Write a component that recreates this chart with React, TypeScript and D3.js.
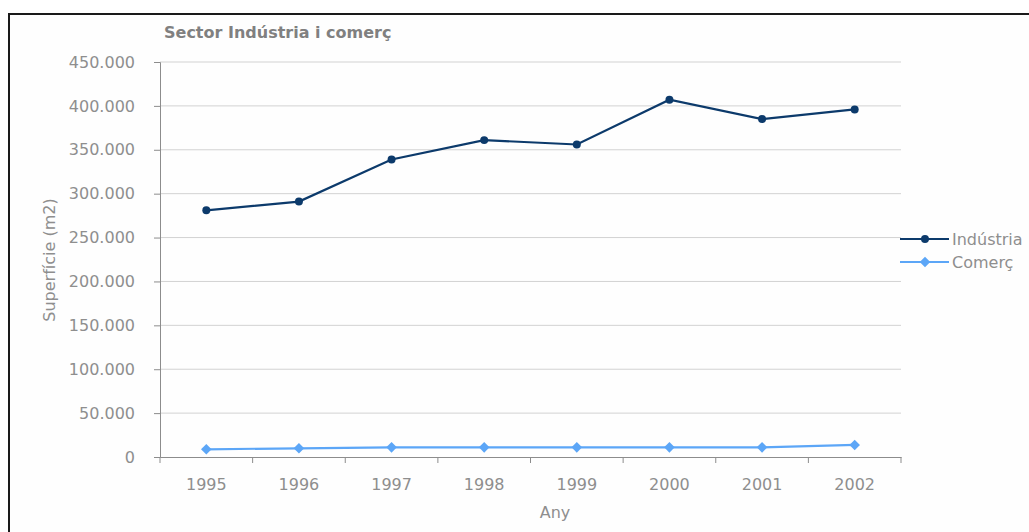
import { useEffect, useRef } from "react";
import * as d3 from "d3";

const years = ["1995", "1996", "1997", "1998", "1999", "2000", "2001", "2002"];
const industria = [281000, 291000, 339000, 361000, 356000, 407000, 385000, 396000];
const comerc = [8800, 9900, 11000, 11000, 11000, 11000, 11000, 13700];
const yTicks = [0, 50000, 100000, 150000, 200000, 250000, 300000, 350000, 400000, 450000];

const TEXT = "#8e8e8e";
const FONT = "'DejaVu Sans', Verdana, sans-serif";

export default function App() {
  const ref = useRef<SVGSVGElement>(null);

  useEffect(() => {
    if (!ref.current) return;
    const svg = d3.select(ref.current);
    svg.selectAll("*").remove();

    const x = d3.scaleBand<string>().domain(years).range([160, 901]);
    const y = d3.scaleLinear().domain([0, 450000]).range([457, 62]);
    const fmt = (v: number) => d3.format(",")(v).replace(/,/g, ".");

    // frame
    svg.append("rect").attr("width", 1029).attr("height", 532).attr("fill", "#fff");
    svg.append("rect")
      .attr("x", 9).attr("y", 14).attr("width", 1100).attr("height", 600)
      .attr("fill", "#fefefe").attr("stroke", "#1a1a1a").attr("stroke-width", 2);

    // title
    svg.append("text")
      .attr("x", 164).attr("y", 38)
      .style("font-family", FONT).style("font-size", "16px").style("font-weight", "bold")
      .attr("fill", "#808080")
      .text("Sector Indústria i comerç");

    // gridlines
    svg.append("g").selectAll("line")
      .data(yTicks.filter((t) => t > 0))
      .enter().append("line")
      .attr("x1", 160).attr("x2", 901)
      .attr("y1", (d) => y(d)).attr("y2", (d) => y(d))
      .attr("stroke", "#d2d2d2").attr("stroke-width", 1);

    // y axis
    const yAxis = svg.append("g")
      .attr("transform", "translate(160,0)")
      .call(d3.axisLeft(y).tickValues(yTicks).tickFormat((d) => fmt(d as number)).tickSize(6).tickPadding(19));
    yAxis.select(".domain").attr("stroke", "#8c8c8c");
    yAxis.selectAll(".tick line").attr("stroke", "#8c8c8c");
    yAxis.selectAll("text")
      .attr("fill", TEXT).style("font-family", FONT).style("font-size", "16px");

    // x axis
    const xAxis = svg.append("g")
      .attr("transform", "translate(0,457)")
      .call(d3.axisBottom(x).tickSize(0).tickPadding(22));
    xAxis.select(".domain").attr("stroke", "#8c8c8c");
    xAxis.selectAll("text")
      .attr("fill", TEXT).style("font-family", FONT).style("font-size", "16px");
    svg.append("g").selectAll("line")
      .data([...years.map((d) => x(d) as number), 901])
      .enter().append("line")
      .attr("x1", (d) => d).attr("x2", (d) => d)
      .attr("y1", 457).attr("y2", 463)
      .attr("stroke", "#8c8c8c");

    // axis titles
    svg.append("text")
      .attr("transform", "translate(55,260) rotate(-90)")
      .attr("text-anchor", "middle")
      .attr("fill", TEXT).style("font-family", FONT).style("font-size", "16px")
      .text("Superfície (m2)");
    svg.append("text")
      .attr("x", 555).attr("y", 518)
      .attr("text-anchor", "middle")
      .attr("fill", TEXT).style("font-family", FONT).style("font-size", "16px")
      .text("Any");

    const cx = (d: string) => (x(d) as number) + x.bandwidth() / 2;
    const line = d3.line<number>().x((_, i) => cx(years[i])).y((d) => y(d));

    const series = [
      { name: "Indústria", values: industria, color: "#0c3a6b", shape: d3.symbolCircle, size: 50, rot: 0, ly: 239 },
      { name: "Comerç", values: comerc, color: "#5ca6f7", shape: d3.symbolSquare, size: 56, rot: 45, ly: 262 },
    ];

    series.forEach((s) => {
      const sym = d3.symbol().type(s.shape).size(s.size)();
      svg.append("path")
        .attr("d", line(s.values))
        .attr("fill", "none").attr("stroke", s.color).attr("stroke-width", 2.2);
      svg.append("g").selectAll("path")
        .data(s.values)
        .enter().append("path")
        .attr("transform", (d, i) => `translate(${cx(years[i])},${y(d)}) rotate(${s.rot})`)
        .attr("d", sym)
        .attr("fill", s.color);

      // legend
      svg.append("line")
        .attr("x1", 900).attr("x2", 949).attr("y1", s.ly).attr("y2", s.ly)
        .attr("stroke", s.color).attr("stroke-width", 2.2);
      svg.append("path")
        .attr("transform", `translate(925,${s.ly}) rotate(${s.rot})`)
        .attr("d", sym)
        .attr("fill", s.color);
      svg.append("text")
        .attr("x", 952).attr("y", s.ly + 6)
        .attr("fill", TEXT).style("font-family", FONT).style("font-size", "16px")
        .text(s.name);
    });
  }, []);

  return (
    <svg
      ref={ref}
      width={1029}
      height={532}
      style={{ position: "absolute", left: 0, top: 0 }}
    />
  );
}
